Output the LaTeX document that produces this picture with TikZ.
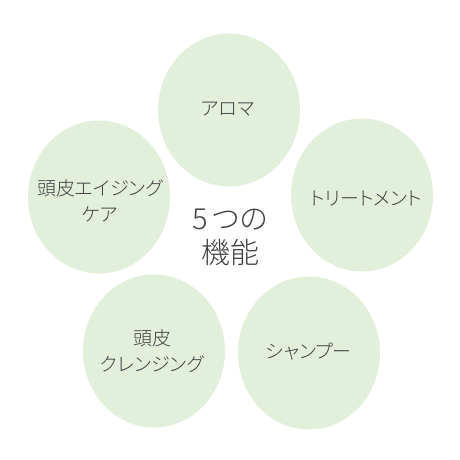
\documentclass[tikz,border=0pt]{standalone}
\usepackage{fontspec}
\setmainfont[RawFeature=+palt]{Noto Sans CJK JP Light}
\usetikzlibrary{shapes.geometric}
\definecolor{petalgreen}{HTML}{E2EFDA}
\definecolor{textgray}{HTML}{404040}
\begin{document}
\begin{tikzpicture}[x=1pt,y=-1pt,
    petal/.style={ellipse,fill=petalgreen,draw=none,minimum width=142pt,minimum height=153pt,inner sep=0pt},
    lbl/.style={text=textgray,align=center,inner sep=0pt,font=\fontsize{19}{26}\selectfont},
    hub/.style={text=textgray,align=center,inner sep=0pt,font=\fontsize{29}{34}\selectfont}]
        \useasboundingbox (0,0) rectangle (460,460);

        % Cerchi
        \node (aroma) [petal] at (229,110) {};
        \node (treat) [petal] at (362,195) {};
        \node (shampoo) [petal] at (309,353) {};
        \node (cleansing) [petal] at (154,351) {};
        \node (aging) [petal] at (99,197) {};

        % Etichette
        \node (aromatxt) [lbl] at (228,109) {アロマ};
        \node (treattxt) [lbl] at (366,199) {トリートメント};
        \node (shampootxt) [lbl] at (309,352) {シャンプー};
        \node (cleansingtxt) [lbl] at (152,351) {頭皮\\クレンジング};
        \node (agingtxt) [lbl] at (100,201) {頭皮エイジング\\ケア};

        % Centro
        \node (hubtxt) [hub] at (230,237) {5\hspace{5pt}つの\\機能};
    \end{tikzpicture}
\end{document}
